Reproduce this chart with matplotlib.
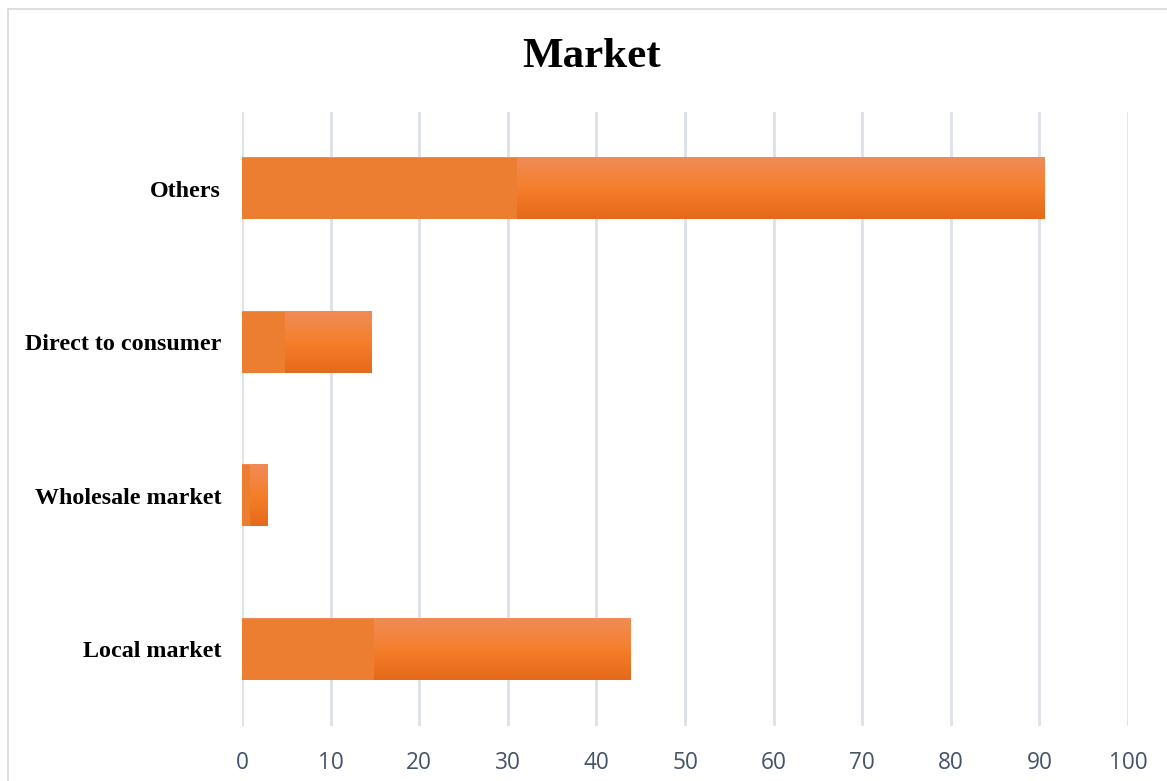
import numpy as np
import matplotlib.pyplot as plt
from matplotlib.colors import LinearSegmentedColormap
from matplotlib.lines import Line2D

# ---------- Data ----------
categories = ["Local market", "Wholesale market", "Direct to consumer", "Others"]
series_front = [14.9, 0.9, 4.8, 31.0]    # solid orange
series_back = [43.8, 2.9, 14.6, 90.6]    # gradient orange
x_ticks = [0, 10, 20, 30, 40, 50, 60, 70, 80, 90, 100]

# ---------- Style ----------
SOLID = "#EC7E31"
GRID = "#DDE1E8"
TICK_COL = "#44546A"
BAR_H = 0.4

grad = LinearSegmentedColormap.from_list(
    "og", ["#E5691A", "#F57F2B", "#F08C58"])

fig = plt.figure(figsize=(11.67, 7.81), dpi=100)
ax = fig.add_axes([242 / 1167, 1 - 726 / 781, (1128 - 242) / 1167, (726 - 112) / 781])

ys = np.arange(len(categories))
ramp = np.linspace(0, 1, 256).reshape(-1, 1)

for y, v in zip(ys, series_back):
    ax.imshow(ramp, cmap=grad, aspect="auto", origin="lower",
              extent=(0, v, y - BAR_H / 2, y + BAR_H / 2), zorder=2)

ax.barh(ys, series_front, height=BAR_H, color=SOLID, zorder=3)

ax.set_xlim(0, 100)
ax.set_ylim(-0.5, 3.5)
ax.set_xticks(x_ticks)
ax.set_xticklabels([str(t) for t in x_ticks], color=TICK_COL,
                   fontsize=16.3, family="Open Sans")
ax.set_yticks(ys)
ax.set_yticklabels(categories, fontsize=17.3, fontweight="bold",
                   family="Liberation Serif")
ax.tick_params(axis="both", length=0)
ax.tick_params(axis="x", pad=18)
ax.tick_params(axis="y", pad=15)
for s in ax.spines.values():
    s.set_visible(False)
ax.grid(axis="x", color=GRID, linewidth=2, zorder=0)
ax.set_axisbelow(True)

fig.text(592 / 1167, 1 - 57 / 781, "Market", ha="center", va="center",
         fontsize=31, fontweight="bold", family="Liberation Serif")

# outer chart border (top and left visible in the crop)
fig.add_artist(Line2D([8 / 1167, 1], [1 - 9 / 781] * 2, color="#D9D9D9", lw=1.2))
fig.add_artist(Line2D([8 / 1167] * 2, [0, 1 - 9 / 781], color="#D9D9D9", lw=1.2))

fig.savefig("out.png", dpi=100)
